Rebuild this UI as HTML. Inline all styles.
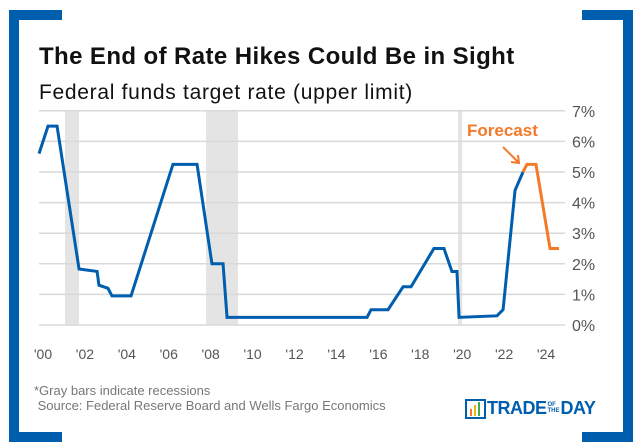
<!DOCTYPE html>
<html><head><meta charset="utf-8"><style>
body{margin:0;background:#fff;}
#c{position:relative;width:640px;height:444px;overflow:hidden;background:#fff;font-family:"Liberation Sans",sans-serif;}
.fr{position:absolute;background:#005eae;}
</style></head><body>
<div id="c">
<div class="fr" style="left:9px;top:10px;width:10px;height:432px"></div>
<div class="fr" style="left:9px;top:10px;width:53px;height:10px"></div>
<div class="fr" style="left:9px;top:432px;width:53px;height:10px"></div>
<div class="fr" style="left:623px;top:10px;width:10px;height:432px"></div>
<div class="fr" style="left:582px;top:10px;width:51px;height:10px"></div>
<div class="fr" style="left:582px;top:432px;width:51px;height:10px"></div>
<div style="position:absolute;left:39px;top:43px;font-size:24px;font-weight:bold;color:#111;letter-spacing:0.4px">The End of Rate Hikes Could Be in Sight</div>
<div style="position:absolute;left:39px;top:81px;font-size:21px;color:#111;letter-spacing:0.7px">Federal funds target rate (upper limit)</div>
<svg id="s" width="640" height="444" style="position:absolute;left:0;top:0"></svg>
<div style="position:absolute;left:34px;top:383px;font-size:13px;color:#777;line-height:15px">*Gray bars indicate recessions<br>&nbsp;Source: Federal Reserve Board and Wells Fargo Economics</div>
<div style="position:absolute;left:465px;top:397px;height:22px;display:flex;align-items:center">
<svg width="22" height="22"><rect x="1" y="3" width="19" height="18" fill="none" stroke="#005eae" stroke-width="2"/><rect x="5" y="12" width="2" height="7" fill="#f47a2a"/><rect x="9" y="8" width="2" height="11" fill="#f2b417"/><rect x="13" y="5" width="2" height="14" fill="#3fae49"/></svg>
<span style="font-weight:bold;font-size:18px;color:#005eae;letter-spacing:-0.5px">TRADE</span>
<span style="font-weight:bold;font-size:6px;color:#005eae;line-height:6px;margin:0 1px">OF<br>THE</span>
<span style="font-weight:bold;font-size:18px;color:#005eae;letter-spacing:-0.5px">DAY</span>
</div>
</div>
<script>
const years=[1999.81,2000.24,2000.67,2001.72,2002.58,2002.67,2003.1,2003.29,2004.2,2006.2,2007.35,2008.06,2008.59,2008.78,2015.46,2015.65,2016.46,2017.18,2017.56,2018.65,2019.13,2019.51,2019.75,2019.85,2021.66,2021.95,2022.52,2022.9];
const rates=[5.6,6.5,6.5,1.83,1.75,1.3,1.2,0.95,0.95,5.25,5.25,2.0,2.0,0.25,0.25,0.5,0.5,1.25,1.25,2.5,2.5,1.75,1.75,0.25,0.3,0.5,4.4,5.0];
const fYears=[2022.9,2023.09,2023.52,2024.19,2024.62];
const fRates=[5.0,5.25,5.25,2.5,2.5];
const recStart=[2001.05,2007.78,2019.8];
const recEnd=[2001.72,2009.3,2020.0];
const yTicks=[0,1,2,3,4,5,6,7];
const xTicks=[2000,2002,2004,2006,2008,2010,2012,2014,2016,2018,2020,2022,2024];
const xTickLabels=["'00","'02","'04","'06","'08","'10","'12","'14","'16","'18","'20","'22","'24"];
const X=y=>43+(y-2000)*20.96, Y=v=>325-v*30.6;
const s=document.getElementById('s'),NS='http://www.w3.org/2000/svg';
function mk(t,a,txt){const e=document.createElementNS(NS,t);for(const k in a)e.setAttribute(k,a[k]);if(txt!=null)e.textContent=txt;s.appendChild(e);return e;}
recStart.forEach((r,i)=>{const e=mk('rect',{x:X(r),y:Y(7),width:X(recEnd[i])-X(r),height:Y(0)-Y(7),fill:'#e4e4e4'});

});
yTicks.forEach(v=>{const l=mk('line',{x1:39,x2:565,y1:Y(v),y2:Y(v),stroke:'#d9d9d9','stroke-width':1.5});


const t=mk('text',{x:572,y:Y(v)+6,'font-size':16,fill:'#555','font-family':'Liberation Sans, sans-serif'},v+'%');

});
xTicks.forEach((v,i)=>{const t=mk('text',{x:X(v),y:359,'font-size':14,fill:'#555','text-anchor':'middle','font-family':'Liberation Sans, sans-serif'},xTickLabels[i]);

});
const p1=mk('polyline',{points:years.map((y,i)=>X(y)+','+Y(rates[i])).join(' '),fill:'none',stroke:'#005eae','stroke-width':3,'stroke-linejoin':'miter'});


const p2=mk('polyline',{points:fYears.map((y,i)=>X(y)+','+Y(fRates[i])).join(' '),fill:'none',stroke:'#f47a2a','stroke-width':3});


const ft=mk('text',{x:467,y:136,'font-size':17,'font-weight':'bold',fill:'#f47a2a','font-family':'Liberation Sans, sans-serif'},'Forecast');


const ar=mk('path',{d:'M503 147 L518 162 M511 162 L519 163 L518 155',fill:'none',stroke:'#f47a2a','stroke-width':2});


</script>
</body></html>
